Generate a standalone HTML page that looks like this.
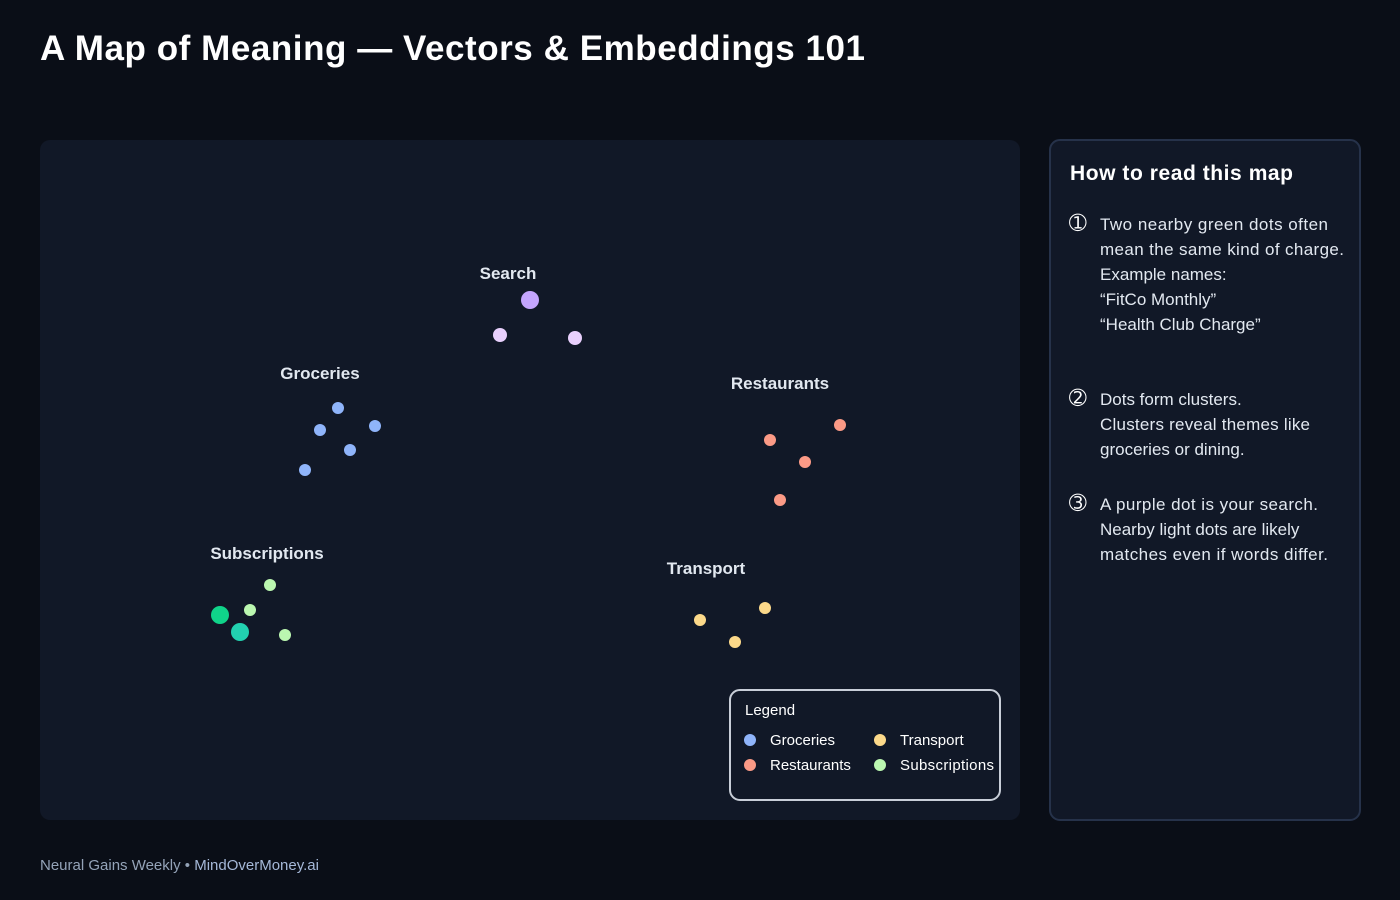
<!DOCTYPE html>
<html><head><meta charset="utf-8"><style>
html,body{margin:0;padding:0;background:#0a0e17;width:1400px;height:900px;overflow:hidden;font-family:"Liberation Sans","DejaVu Sans",sans-serif}
</style></head><body>
<svg width="1400" height="900" xmlns="http://www.w3.org/2000/svg" font-family="Liberation Sans, DejaVu Sans, sans-serif">
<rect width="1400" height="900" fill="#0a0e17"/>
<text x="40" y="60" fill="#fff" font-size="35" font-weight="bold" textLength="825" lengthAdjust="spacing">A Map of Meaning — Vectors &amp; Embeddings 101</text>
<rect x="40" y="140" width="980" height="680" rx="10" fill="#111827"/>
<g fill="#e2e8f0" font-size="17" font-weight="bold" text-anchor="middle">
<text x="508" y="279">Search</text>
<text x="320" y="379">Groceries</text>
<text x="780" y="389">Restaurants</text>
<text x="267" y="559">Subscriptions</text>
<text x="706" y="574">Transport</text>
</g>
<circle cx="530" cy="300" r="9" fill="#c4a5fd"/>
<circle cx="500" cy="335" r="7" fill="#e9d0fd"/>
<circle cx="575" cy="338" r="7" fill="#e9d0fd"/>
<g fill="#8fb4fa">
<circle cx="338" cy="408" r="6"/><circle cx="320" cy="430" r="6"/><circle cx="375" cy="426" r="6"/><circle cx="350" cy="450" r="6"/><circle cx="305" cy="470" r="6"/>
</g>
<g fill="#fb9a86">
<circle cx="840" cy="425" r="6"/><circle cx="770" cy="440" r="6"/><circle cx="805" cy="462" r="6"/><circle cx="780" cy="500" r="6"/>
</g>
<g fill="#fcd98a">
<circle cx="765" cy="608" r="6"/><circle cx="700" cy="620" r="6"/><circle cx="735" cy="642" r="6"/>
</g>
<g fill="#bbf7b0">
<circle cx="270" cy="585" r="6"/><circle cx="250" cy="610" r="6"/><circle cx="285" cy="635" r="6"/>
</g>
<circle cx="220" cy="615" r="9" fill="#10d48a"/>
<circle cx="240" cy="632" r="9" fill="#22d1b0"/>
<rect x="730" y="690" width="270" height="110" rx="10" fill="#111827" stroke="#c8ced8" stroke-width="2"/>
<g fill="#fff" font-size="15">
<text x="745" y="715">Legend</text>
<circle cx="750" cy="740" r="6" fill="#8fb4fa"/><text x="770" y="745">Groceries</text>
<circle cx="750" cy="765" r="6" fill="#fb9a86"/><text x="770" y="770">Restaurants</text>
<circle cx="880" cy="740" r="6" fill="#fcd98a"/><text x="900" y="745">Transport</text>
<circle cx="880" cy="765" r="6" fill="#bbf7b0"/><text x="900" y="770" textLength="94" lengthAdjust="spacing">Subscriptions</text>
</g>
<rect x="1050" y="140" width="310" height="680" rx="10" fill="#111827" stroke="#26324a" stroke-width="2"/>
<text x="1070" y="180" fill="#fff" font-size="21" font-weight="bold" textLength="223" lengthAdjust="spacing">How to read this map</text>
<g fill="#e2e8f0" font-size="17">
<text x="1069" y="230" font-size="21" fill="#fff">➀</text>
<text x="1100" y="230" textLength="228" lengthAdjust="spacing">Two nearby green dots often</text>
<text x="1100" y="255" textLength="244" lengthAdjust="spacing">mean the same kind of charge.</text>
<text x="1100" y="280">Example names:</text>
<text x="1100" y="305">“FitCo Monthly”</text>
<text x="1100" y="330">“Health Club Charge”</text>
<text x="1069" y="405" font-size="21" fill="#fff">➁</text>
<text x="1100" y="405">Dots form clusters.</text>
<text x="1100" y="430" textLength="210" lengthAdjust="spacing">Clusters reveal themes like</text>
<text x="1100" y="455">groceries or dining.</text>
<text x="1069" y="510" font-size="21" fill="#fff">➂</text>
<text x="1100" y="510" textLength="218" lengthAdjust="spacing">A purple dot is your search.</text>
<text x="1100" y="535">Nearby light dots are likely</text>
<text x="1100" y="560" textLength="228" lengthAdjust="spacing">matches even if words differ.</text>
</g>
<text x="40" y="870" fill="#94a3b8" font-size="15">Neural Gains Weekly • <tspan fill="#a5b8d8">MindOverMoney.ai</tspan></text>
</svg>
</body></html>
